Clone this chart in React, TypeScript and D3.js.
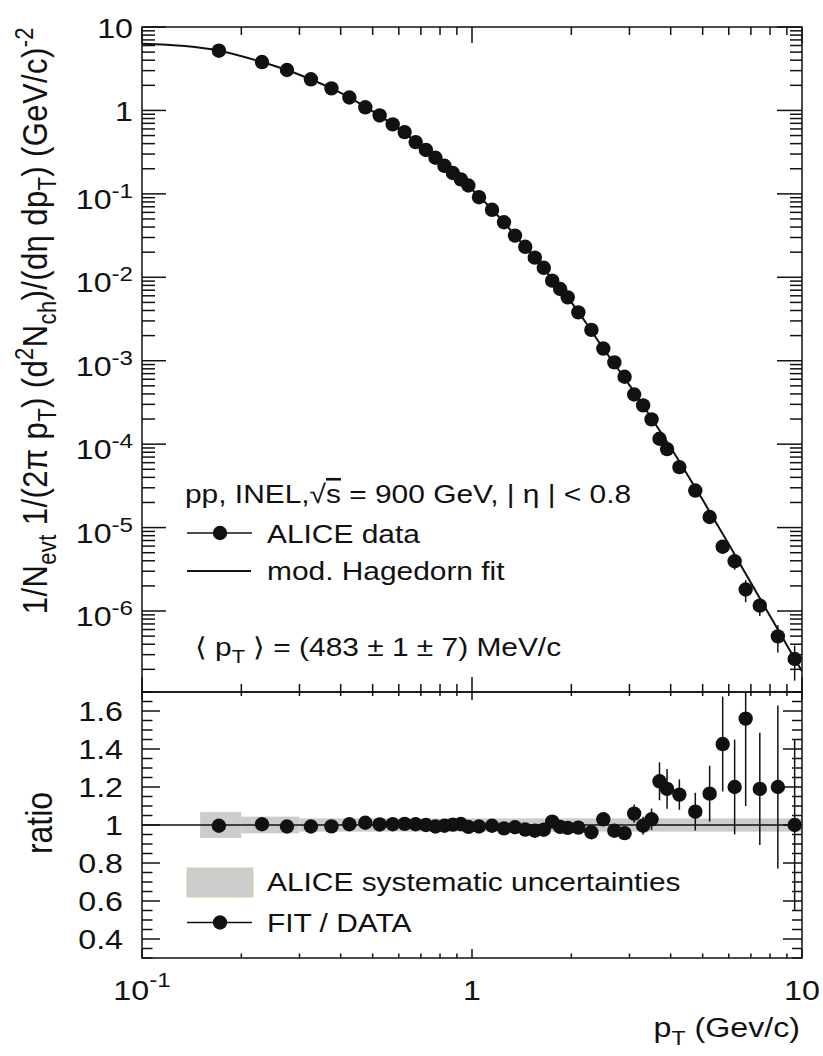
import React from 'react';
import * as d3 from 'd3';

// ---- data ----
const pT = [0.171, 0.231, 0.275, 0.325, 0.375, 0.425, 0.475, 0.525, 0.575, 0.625, 0.675, 0.725, 0.775, 0.825, 0.875, 0.925, 0.975,
  1.05, 1.15, 1.25, 1.35, 1.45, 1.55, 1.65, 1.75, 1.85, 1.95,
  2.1, 2.3, 2.5, 2.7, 2.9, 3.1, 3.3, 3.5, 3.7, 3.9,
  4.25, 4.75, 5.25, 5.75, 6.25, 6.75, 7.45, 8.45, 9.5];
const yieldVals = [5.2, 3.8, 3.05, 2.36, 1.84, 1.43, 1.09, 0.871, 0.68, 0.55, 0.417, 0.336, 0.271, 0.217, 0.178, 0.149, 0.126,
  0.0912, 0.0644, 0.0457, 0.0316, 0.0232, 0.0172, 0.0130, 0.00912, 0.00724, 0.00575,
  0.0038, 0.00234, 0.0014, 9.55e-4, 6.43e-4, 3.94e-4, 2.92e-4, 1.98e-4, 1.16e-4, 8.72e-5,
  5.31e-5, 2.78e-5, 1.34e-5, 5.9e-6, 3.95e-6, 1.81e-6, 1.16e-6, 4.97e-7, 2.66e-7];
const ratioVals = [0.996, 1.004, 0.992, 0.992, 0.993, 1.004, 1.012, 1.003, 1.004, 1.006, 1.004, 1.0, 0.992, 0.996, 1.002, 1.005, 0.99,
  0.992, 0.996, 0.982, 0.988, 0.976, 0.97, 0.975, 1.018, 0.99, 0.985,
  0.986, 0.962, 1.03, 0.97, 0.957, 1.06, 0.996, 1.03, 1.23, 1.19,
  1.16, 1.07, 1.165, 1.426, 1.2, 1.56, 1.19, 1.2, 1.0];
const relErr = [0.004, 0.004, 0.004, 0.004, 0.004, 0.004, 0.004, 0.004, 0.004, 0.004, 0.004, 0.005, 0.005, 0.005, 0.005, 0.005, 0.005,
  0.006, 0.006, 0.007, 0.007, 0.008, 0.008, 0.009, 0.01, 0.01, 0.011,
  0.012, 0.015, 0.02, 0.022, 0.025, 0.045, 0.048, 0.055, 0.081, 0.088,
  0.069, 0.093, 0.126, 0.175, 0.208, 0.295, 0.248, 0.358, 0.45];

// modified Hagedorn fit curve
const fitPt = [0.1, 0.135, 0.171, 0.231, 0.3, 0.4, 0.5, 0.6, 0.7, 0.8, 0.9, 1.0, 1.2, 1.4, 1.6, 1.8, 2.0, 2.5, 3.0, 3.5, 4.0, 4.5, 5.0, 6.0, 7.0, 8.0, 9.0, 10.0];
const fitVals = [6.3, 5.9, 5.2, 3.8, 2.68, 1.62, 0.975, 0.61, 0.375, 0.243, 0.163, 0.113, 0.0543, 0.0271, 0.015, 0.00813, 0.005, 0.0014, 5.1e-4, 2.04e-4, 9.1e-5, 4.28e-5, 2.15e-5, 6.3e-6, 2.18e-6, 8.7e-7, 3.9e-7, 1.9e-7];

// systematic uncertainty band (ratio panel)
const sysLow = [0.15, 0.2, 0.3];
const sysHigh = [0.2, 0.3, 10];
const sysVals = [0.068, 0.044, 0.035];

// tick labels
const xLabelExps = [-1, 0, 1];
const yTopLabelExps = [1, 0, -1, -2, -3, -4, -5, -6];
const ratioLabels = [0.4, 0.6, 0.8, 1, 1.2, 1.4, 1.6];

const SX = 1.15;
const FONT = "'Liberation Sans', Arial, Helvetica, sans-serif";
const INK = '#111';

function Txt({ x, y, anchor = 'start', size = 28, rot = 0, spacing = 0, children }: any) {
  const tr = `translate(${x},${y}) scale(${SX},1)` + (rot ? ` rotate(${rot})` : '');
  return (
    <text transform={tr} textAnchor={anchor} fontSize={size} fill={INK} fontFamily={FONT} letterSpacing={spacing}>
      {children}
    </text>
  );
}

function Pow({ e, sup = 20, raise = 11 }: any) {
  if (e === 1) return <>10</>;
  if (e === 0) return <>1</>;
  return (
    <>
      10<tspan dy={-raise} fontSize={sup}>{e}</tspan>
    </>
  );
}

export default function App() {
  const L = 142, R = 802, T0 = 27, M = 692, B = 958;
  const x = d3.scaleLog().domain([0.1, 10]).range([L, R]);
  const yT = d3.scaleLog().domain([1.07e-7, 10]).range([M, T0]);
  const yR = d3.scaleLinear().domain([0.3, 1.7]).range([B, M]);

  const xTicks = x.ticks();
  const isDecade = (v: number) => Math.abs(Math.log10(v) - Math.round(Math.log10(v))) < 1e-6;
  const yTTicks = yT.ticks().filter((v) => v >= 1.07e-7 && v <= 10);
  const yRTicks = yR.ticks(28);
  const isMajorR = (v: number) => Math.abs(v * 5 - Math.round(v * 5)) < 1e-6;

  const fitLine = d3
    .line<number>()
    .x((_, i) => x(fitPt[i]))
    .y((d) => yT(d))
    .curve(d3.curveMonotoneX)(fitVals) as string;

  const MR = 7.2;

  return (
    <svg width={823} height={1056} style={{ position: 'absolute', left: 0, top: 0, background: '#fff' }}>
      <defs>
        <clipPath id="clipTop"><rect x={L} y={T0} width={R - L} height={M - T0} /></clipPath>
        <clipPath id="clipRatio"><rect x={L} y={M} width={R - L} height={B - M} /></clipPath>
      </defs>
      <rect x={0} y={0} width={823} height={1056} fill="#fff" />

      {/* ---------- top panel ---------- */}
      <g clipPath="url(#clipTop)">
        <path d={fitLine} fill="none" stroke={INK} strokeWidth={2} />
        {pT.map((p, i) => (
          <line key={'e' + i} x1={x(p)} x2={x(p)} y1={yT(yieldVals[i] * (1 - relErr[i]))} y2={yT(yieldVals[i] * (1 + relErr[i]))} stroke={INK} strokeWidth={1.5} />
        ))}
        {pT.map((p, i) => (
          <circle key={'m' + i} cx={x(p)} cy={yT(yieldVals[i])} r={MR} fill={INK} />
        ))}
      </g>

      {/* ---------- ratio panel ---------- */}
      <g clipPath="url(#clipRatio)">
        {sysVals.map((s, i) => (
          <rect key={'s' + i} x={x(sysLow[i])} width={x(sysHigh[i]) - x(sysLow[i])} y={yR(1 + s)} height={yR(1 - s) - yR(1 + s)} fill="#cccccc" />
        ))}
        <line x1={L} x2={R} y1={yR(1)} y2={yR(1)} stroke={INK} strokeWidth={1.5} />
        {pT.map((p, i) => (
          <line key={'re' + i} x1={x(p)} x2={x(p)} y1={yR(ratioVals[i] * (1 - relErr[i]))} y2={yR(ratioVals[i] * (1 + relErr[i]))} stroke={INK} strokeWidth={1.5} />
        ))}
        {pT.map((p, i) => (
          <circle key={'rm' + i} cx={x(p)} cy={yR(ratioVals[i])} r={MR} fill={INK} />
        ))}
      </g>

      {/* ---------- frames ---------- */}
      <rect x={L} y={T0} width={R - L} height={M - T0} fill="none" stroke={INK} strokeWidth={1.5} />
      <rect x={L} y={M} width={R - L} height={B - M} fill="none" stroke={INK} strokeWidth={1.5} />

      {/* x ticks */}
      {xTicks.map((v, i) => {
        const maj = isDecade(v);
        const xx = x(v);
        return (
          <g key={'xt' + i} stroke={INK} strokeWidth={1.5}>
            <line x1={xx} x2={xx} y1={T0} y2={T0 + (maj ? 16 : 8)} />
            <line x1={xx} x2={xx} y1={M} y2={M - (maj ? 15 : 8)} />
            <line x1={xx} x2={xx} y1={M} y2={M + (maj ? 8 : 4)} />
            <line x1={xx} x2={xx} y1={B} y2={B - (maj ? 9 : 4.5)} />
          </g>
        );
      })}

      {/* y ticks top */}
      {yTTicks.map((v, i) => {
        const maj = isDecade(v);
        const yy = yT(v);
        return (
          <g key={'yt' + i} stroke={INK} strokeWidth={1.5}>
            <line x1={L} x2={L + (maj ? 24 : 13)} y1={yy} y2={yy} />
            <line x1={R} x2={R - (maj ? 25 : 12)} y1={yy} y2={yy} />
          </g>
        );
      })}

      {/* y ticks ratio */}
      {yRTicks.map((v, i) => {
        const maj = isMajorR(v);
        const yy = yR(v);
        return (
          <g key={'yr' + i} stroke={INK} strokeWidth={1.5}>
            <line x1={L} x2={L + (maj ? 18 : 10.5)} y1={yy} y2={yy} />
            <line x1={R} x2={R - (maj ? 19 : 10)} y1={yy} y2={yy} />
          </g>
        );
      })}

      {/* top y labels */}
      {yTopLabelExps.map((e) => (
        <Txt key={'yl' + e} x={133} y={yT(Math.pow(10, e)) + (e < 0 ? 15 : 10.5)} anchor="end" size={28}>
          <Pow e={e} sup={21} raise={11} />
        </Txt>
      ))}

      {/* ratio y labels */}
      {ratioLabels.map((v) => (
        <Txt key={'rl' + v} x={123} y={yR(v) + 10} anchor="end" size={28}>
          {String(v)}
        </Txt>
      ))}

      {/* x labels */}
      {xLabelExps.map((e) => (
        <Txt key={'xl' + e} x={x(Math.pow(10, e))} y={1000} anchor="middle" size={28}>
          <Pow e={e} sup={21} raise={13} />
        </Txt>
      ))}

      {/* axis titles */}
      <Txt x={47} y={27} anchor="end" size={31} rot={-90} spacing={0.4}>
        1/N<tspan dy={8} fontSize={22}>evt</tspan>
        <tspan dy={-8}>{'  1/(2π p'}</tspan>
        <tspan dy={8} fontSize={22}>T</tspan>
        <tspan dy={-8}>{') (d'}</tspan>
        <tspan dy={-12} fontSize={22}>2</tspan>
        <tspan dy={12}>N</tspan>
        <tspan dy={8} fontSize={22}>ch</tspan>
        <tspan dy={-8}>{')/(dη dp'}</tspan>
        <tspan dy={8} fontSize={22}>T</tspan>
        <tspan dy={-8}>{') (GeV/c)'}</tspan>
        <tspan dy={-12} fontSize={22}>-2</tspan>
      </Txt>
      <Txt x={52} y={823} anchor="middle" size={32} rot={-90}>ratio</Txt>
      <Txt x={800} y={1037} anchor="end" size={28}>
        p<tspan dy={8} fontSize={20}>T</tspan>
        <tspan dy={-8}>{' (Gev/c)'}</tspan>
      </Txt>

      {/* top legend */}
      <Txt x={185} y={503} size={26}>
        {'pp, INEL,√'}
        <tspan style={{ textDecoration: 'overline' }}>s</tspan>
        {' = 900 GeV, | η | < 0.8'}
      </Txt>
      <line x1={187} x2={252} y1={533} y2={533} stroke={INK} strokeWidth={1.5} />
      <circle cx={220} cy={533} r={MR} fill={INK} />
      <Txt x={267} y={543} size={26}>ALICE data</Txt>
      <line x1={187} x2={251} y1={571} y2={571} stroke={INK} strokeWidth={2} />
      <Txt x={267} y={580} size={26}>mod. Hagedorn fit</Txt>
      <Txt x={195} y={656} size={26}>
        {'⟨ p'}
        <tspan dy={7} fontSize={19}>T</tspan>
        <tspan dy={-7}>{' ⟩ = (483 ± 1 ± 7) MeV/c'}</tspan>
      </Txt>

      {/* ratio legend */}
      <rect x={187} y={868} width={66} height={29} fill="#cccccc" stroke="#d6cba6" strokeWidth={1} />
      <Txt x={267} y={891} size={26}>ALICE systematic uncertainties</Txt>
      <line x1={187} x2={252} y1={922.5} y2={922.5} stroke={INK} strokeWidth={1.5} />
      <circle cx={220} cy={922.5} r={MR} fill={INK} />
      <Txt x={267} y={932} size={26}>FIT / DATA</Txt>
    </svg>
  );
}
